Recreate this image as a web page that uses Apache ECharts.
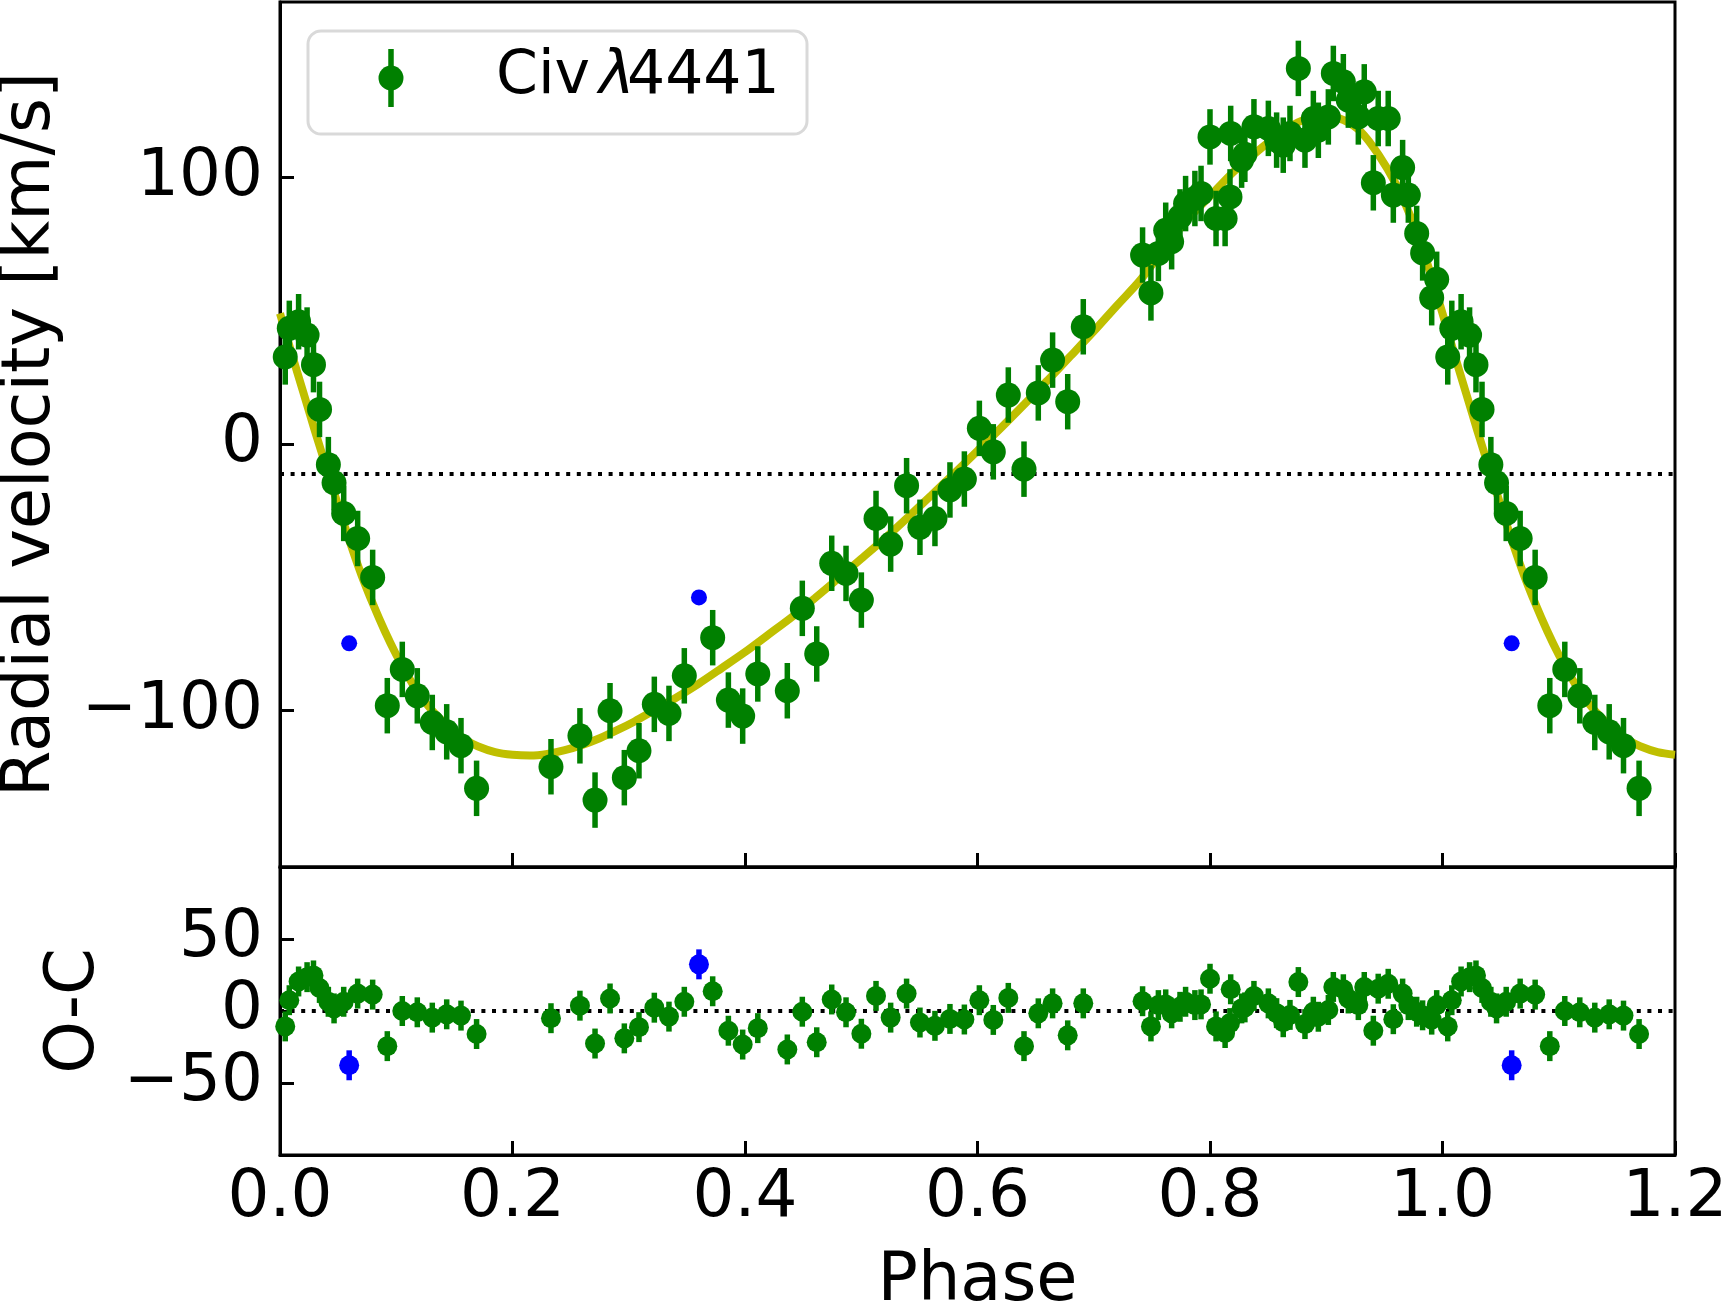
<!DOCTYPE html>
<html>
<head>
<meta charset="utf-8">
<script src="https://cdn.jsdelivr.net/npm/echarts@6/dist/echarts.min.js"></script>
<style>
  html, body { margin: 0; padding: 0; background: #fff; }
  #rv { width: 1721px; height: 1304px; }
</style>
</head>
<body>
<div id="rv"></div>
<script>
// measured points, phase 0..1 (points below 0.2 are shown again at phase+1)
var phase = [0.0045, 0.0080, 0.0160, 0.0233, 0.0288, 0.0340, 0.0416, 0.0465, 0.0548, 0.0668,
    0.0797, 0.0923, 0.1052, 0.1181, 0.1310, 0.1434, 0.1557, 0.1691, 0.2331, 0.2580,
    0.2710, 0.2839, 0.2962, 0.3088, 0.3220, 0.3346, 0.3478, 0.3722, 0.3857, 0.3980,
    0.4110, 0.4364, 0.4493, 0.4617, 0.4746, 0.4869, 0.5001, 0.5127, 0.5253, 0.5390,
    0.5505, 0.5634, 0.5763, 0.5887, 0.6016, 0.6136, 0.6265, 0.6400, 0.6523, 0.6646,
    0.6776, 0.6910, 0.7420, 0.7492, 0.7556, 0.7619, 0.7670, 0.7742, 0.7790, 0.7870,
    0.7923, 0.8000, 0.8052, 0.8130, 0.8172, 0.8178, 0.8272, 0.8300, 0.8378, 0.8502,
    0.8573, 0.8630, 0.8688, 0.8760, 0.8817, 0.8889, 0.8932, 0.9018, 0.9061, 0.9147,
    0.9190, 0.9276, 0.9327, 0.9405, 0.9447, 0.9533, 0.9577, 0.9657, 0.9706, 0.9778,
    0.9829, 0.9907, 0.9950];
var rv = [32.7, 43.4, 45.9, 40.9, 29.8, 13.0, -7.7, -14.5, -26.0, -35.4,
    -50.0, -98.1, -84.5, -94.4, -104.4, -107.9, -113.1, -129.1, -121.0, -109.4,
    -133.5, -100.0, -125.1, -115.0, -97.6, -101.0, -86.9, -72.6, -96.0, -102.0,
    -86.2, -92.5, -61.6, -78.7, -44.7, -48.5, -58.5, -27.9, -37.5, -15.6,
    -31.2, -27.9, -17.2, -13.1, 5.9, -2.9, 18.4, -9.4, 19.2, 31.5,
    15.9, 44.0, 70.9, 56.7, 71.5, 80.2, 75.9, 85.2, 90.2, 92.1,
    94.0, 115.2, 84.6, 84.6, 92.7, 116.5, 106.5, 108.7, 119.0, 118.4,
    114.0, 112.1, 116.5, 140.9, 114.0, 122.1, 117.7, 122.7, 139.0, 135.9,
    129.0, 122.7, 132.1, 98.0, 122.1, 122.1, 93.4, 103.7, 93.4, 79.0,
    71.7, 54.9, 61.8];
var oc = [-10.7, 7.5, 20.5, 23.5, 24.7, 16.0, 6.4, 1.8, 6.4, 12.1,
    11.4, -24.4, 0.0, -0.9, -4.6, -2.3, -3.2, -16.0, -5.0, 3.7,
    -22.6, 8.7, -19.0, -11.2, 2.3, -3.9, 6.4, 13.7, -13.7, -23.3,
    -11.9, -26.7, -0.5, -21.7, 8.0, -0.9, -15.8, 10.5, -4.6, 12.1,
    -8.0, -10.3, -5.5, -5.9, 7.5, -6.2, 9.1, -24.4, -1.6, 5.3,
    -16.9, 5.3, 6.8, -10.7, 4.1, 4.6, -1.6, 2.9, 6.4, 4.1,
    4.6, 22.4, -10.7, -15.3, -8.4, 15.1, 1.8, 2.5, 10.5, 5.3,
    -1.5, -7.8, -2.7, 20.1, -9.1, -0.5, -4.0, 0.7, 16.7, 15.1,
    8.7, 4.1, 16.7, -13.7, 15.5, 18.9, -5.7, 12.1, 4.1, -0.5,
    -3.0, -6.0, 4.1];
var rvErr = 10.4;

// rejected points (blue)
var bluePhase = [0.0595, 0.3604];
var blueRv = [-74.7, -57.5];
var blueOc = [-37.7, 32.4];

// orbit fit
var curvePhase = [0.00, 0.01, 0.02, 0.03, 0.04, 0.05, 0.06, 0.07, 0.08, 0.09,
    0.10, 0.11, 0.12, 0.13, 0.14, 0.15, 0.16, 0.17, 0.185, 0.20,
    0.215, 0.23, 0.245, 0.26, 0.275, 0.29, 0.305, 0.32, 0.34, 0.36,
    0.38, 0.40, 0.42, 0.44, 0.46, 0.48, 0.50, 0.52, 0.54, 0.56,
    0.58, 0.60, 0.62, 0.64, 0.66, 0.68, 0.70, 0.72, 0.74, 0.76,
    0.78, 0.80, 0.82, 0.84, 0.86, 0.88, 0.90, 0.915, 0.93, 0.945,
    0.96, 0.97, 0.98, 0.99, 1.00, 1.01, 1.02, 1.03, 1.04, 1.05,
    1.06, 1.07, 1.08, 1.09, 1.10, 1.11, 1.12, 1.13, 1.14, 1.15,
    1.16, 1.17, 1.185, 1.20];
var curveRv = [49, 34, 19.5, 5, -9, -23, -36.5, -49, -60, -70,
    -79, -87, -94, -99.5, -104, -108, -111, -113.3, -115.5, -116.5,
    -116.8, -116.2, -114.8, -112.8, -110.3, -107.3, -104, -100.3, -95.3, -89.9,
    -84, -78, -71.5, -65, -57.8, -50.5, -43, -35.5, -27.5, -19.3,
    -11, -2.5, 6, 14.8, 23.8, 33, 42.3, 52, 61.5, 73,
    84, 93, 102, 109.5, 116.5, 121.5, 123, 121.5, 117, 108.5,
    97.5, 88, 77, 63.5, 49, 34, 19.5, 5, -9, -23,
    -36.5, -49, -60, -70, -79, -87, -94, -99.5, -104, -108,
    -111, -113.3, -115.5, -116.5];

var gamma = -11.2;
var xTicks = [0, 0.2, 0.4, 0.6, 0.8, 1.0, 1.2];
var rvTicks = [-100, 0, 100];
var ocTicks = [-50, 0, 50];

var GREEN = '#008000', BLUE = '#0000ff', FONT = 'DejaVu Sans';

function folded(xs, ys) {
    var out = [];
    for (var i = 0; i < xs.length; i++) {
        out.push([xs[i], ys[i]]);
        if (xs[i] < 0.2) out.push([xs[i] + 1, ys[i]]);
    }
    return out;
}
function withErr(pts, e) {
    return pts.map(function (p) { return [p[0], p[1] - e, p[1] + e]; });
}
function errBars(data, idx, color, width) {
    return {
        type: 'custom', xAxisIndex: idx, yAxisIndex: idx, silent: true, clip: true, z: 3,
        encode: {x: 0, y: [1, 2]},
        renderItem: function (params, api) {
            var a = api.coord([api.value(0), api.value(1)]);
            var b = api.coord([api.value(0), api.value(2)]);
            return {type: 'line', shape: {x1: a[0], y1: a[1], x2: b[0], y2: b[1]},
                style: {stroke: color, lineWidth: width}};
        },
        data: data
    };
}
function minus(v) { return String(v).replace('-', '\u2212'); }
function legendText(x, str, italic) {
    return {type: 'text', z: 101, x: x, y: 77,
        style: {text: str, verticalAlign: 'middle', fill: '#000',
            font: (italic ? 'italic ' : '') + '60px "DejaVu Sans"'}};
}

var rvPts = folded(phase, rv);
var ocPts = folded(phase, oc);
var blueRvPts = folded(bluePhase, blueRv);
var blueOcPts = folded(bluePhase, blueOc);
var curve = curvePhase.map(function (p, i) { return [p, curveRv[i]]; });

var tickStyle = {show: true, inside: true, length: 14, lineStyle: {color: '#000', width: 3}};
var lineStyle = {show: true, onZero: false, lineStyle: {color: '#000', width: 3}};
var labelStyle = {fontSize: 66, color: '#000', fontFamily: FONT};
var nameStyle = {fontSize: 67, color: '#000', fontFamily: FONT};

var chart = echarts.init(document.getElementById('rv'));
var option = {
    animation: false,
    textStyle: {fontFamily: FONT},
    grid: [
        {left: 280, top: 2, width: 1395, height: 865, show: true, borderColor: '#000', borderWidth: 3, outerBoundsMode: 'none'},
        {left: 280, top: 867, width: 1395, height: 288, show: true, borderColor: '#000', borderWidth: 3, outerBoundsMode: 'none'}
    ],
    xAxis: [
        {type: 'value', gridIndex: 0, min: 0, max: 1.2, interval: 0.2,
            axisLine: lineStyle, axisTick: tickStyle, axisLabel: {show: false}, splitLine: {show: false}},
        {type: 'value', gridIndex: 1, min: 0, max: 1.2, interval: 0.2,
            axisLine: lineStyle, axisTick: tickStyle, splitLine: {show: false},
            axisLabel: Object.assign({margin: 11, formatter: function (v) { return v.toFixed(1); }}, labelStyle),
            name: 'Phase', nameLocation: 'middle', nameGap: 94, nameTextStyle: nameStyle}
    ],
    yAxis: [
        {type: 'value', gridIndex: 0, min: -158.6, max: 165.8,
            axisLine: lineStyle, splitLine: {show: false},
            axisTick: Object.assign({customValues: rvTicks}, tickStyle),
            axisLabel: Object.assign({customValues: rvTicks, margin: 17, formatter: minus}, labelStyle),
            name: 'Radial velocity [km/s]', nameLocation: 'middle', nameGap: 215, nameTextStyle: nameStyle},
        {type: 'value', gridIndex: 1, min: -100, max: 100,
            axisLine: lineStyle, splitLine: {show: false},
            axisTick: Object.assign({customValues: ocTicks}, tickStyle),
            axisLabel: Object.assign({customValues: ocTicks, margin: 17, formatter: minus}, labelStyle),
            name: 'O-C', nameLocation: 'middle', nameGap: 171, nameTextStyle: nameStyle}
    ],
    graphic: [
        {type: 'rect', z: 100, shape: {x: 308, y: 31, width: 499, height: 103, r: 13},
            style: {fill: 'rgba(255,255,255,0.8)', stroke: '#d9d9d9', lineWidth: 3}},
        {type: 'line', z: 101, shape: {x1: 391, y1: 49, x2: 391, y2: 107},
            style: {stroke: GREEN, lineWidth: 5.5}},
        {type: 'circle', z: 101, shape: {cx: 391, cy: 78, r: 12.5}, style: {fill: GREEN}},
        legendText(496, 'Civ', false),
        legendText(599, '\u03bb', true),
        legendText(627, '4441', false)
    ],
    series: [
        {type: 'line', xAxisIndex: 0, yAxisIndex: 0, data: [[0, gamma], [1.2, gamma]], symbol: 'none', z: 1,
            lineStyle: {color: '#000', width: 4, type: [4, 6.6]}},
        {type: 'line', xAxisIndex: 0, yAxisIndex: 0, data: curve, symbol: 'none', smooth: 0.3, z: 2,
            lineStyle: {color: '#bfbf00', width: 8}},
        errBars(withErr(rvPts, rvErr), 0, GREEN, 5.5),
        {type: 'scatter', xAxisIndex: 0, yAxisIndex: 0, data: rvPts, symbolSize: 25, z: 4,
            itemStyle: {color: GREEN, opacity: 1}},
        {type: 'scatter', xAxisIndex: 0, yAxisIndex: 0, data: blueRvPts, symbolSize: 16, z: 4,
            itemStyle: {color: BLUE, opacity: 1}},

        {type: 'line', xAxisIndex: 1, yAxisIndex: 1, data: [[0, 0], [1.2, 0]], symbol: 'none', z: 1,
            lineStyle: {color: '#000', width: 4, type: [4, 6.6]}},
        errBars(withErr(ocPts, rvErr), 1, GREEN, 5.5),
        errBars(withErr(blueOcPts, rvErr), 1, BLUE, 5.5),
        {type: 'scatter', xAxisIndex: 1, yAxisIndex: 1, data: ocPts, symbolSize: 20, z: 4,
            itemStyle: {color: GREEN, opacity: 1}},
        {type: 'scatter', xAxisIndex: 1, yAxisIndex: 1, data: blueOcPts, symbolSize: 20, z: 4,
            itemStyle: {color: BLUE, opacity: 1}}
    ]
};
chart.setOption(option);
</script>
</body>
</html>
